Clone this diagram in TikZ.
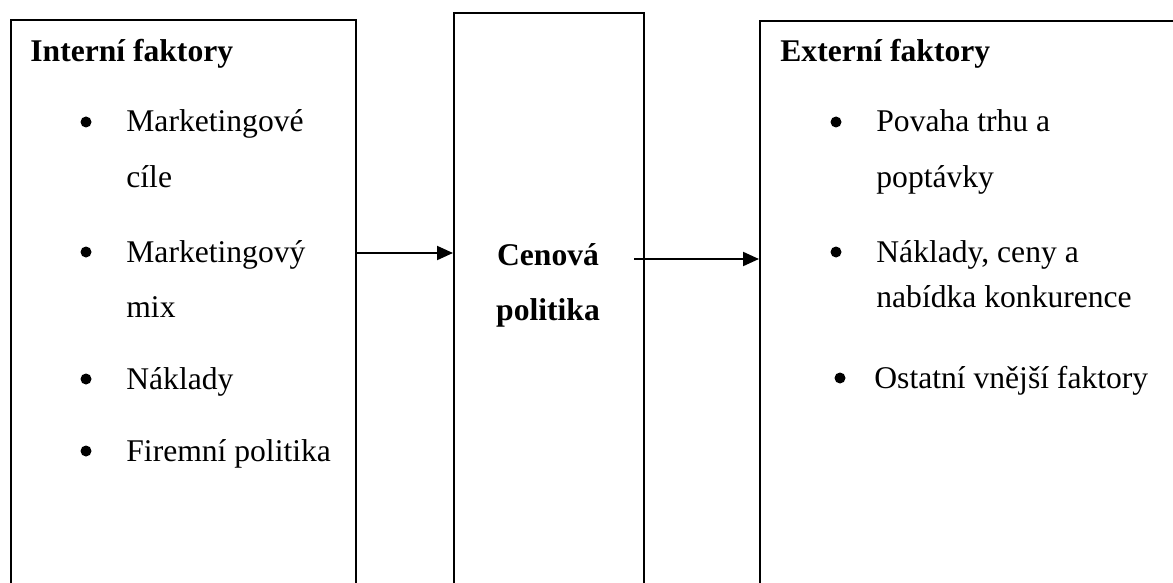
\documentclass[tikz,border=0pt]{standalone}
\usepackage{fontspec}
\setmainfont{Liberation Serif}
\usetikzlibrary{arrows.meta}
\begin{document}
\begin{tikzpicture}[x=0.5pt,y=-0.5pt,
  box/.style={draw, line width=1pt, rectangle, inner sep=0pt, anchor=north west},
  txt/.style={anchor=base west, inner sep=0pt, font=\fontsize{15.8pt}{19pt}\selectfont},
  ttl/.style={anchor=base west, inner sep=0pt, font=\fontsize{15.8pt}{19pt}\selectfont\bfseries},
  mid/.style={anchor=base, inner sep=0pt, font=\fontsize{15.8pt}{19pt}\selectfont\bfseries},
  bul/.style={circle, fill, inner sep=0pt, minimum size=5.5pt},
  arr/.style={line width=1pt, -{Triangle[length=8pt,width=7pt]}}]
\useasboundingbox (0,0) rectangle (1173,583);
\clip (0,0) rectangle (1173,583);
% boxes
\node[box, minimum width=172.5pt, minimum height=320pt] (L) at (10,19) {};
\node[box, minimum width=95pt, minimum height=330pt] (M) at (453,12) {};
\node[box, minimum width=250pt, minimum height=320pt] (R) at (759,20) {};
% left column
\node[ttl] (Lt) at (30,62) {Interní faktory};
\node[bul] (Lb1) at (86,122) {};
\node[txt] (L1a) at (126,132) {Marketingové};
\node[txt] (L1b) at (126,187) {cíle};
\node[bul] (Lb2) at (86,252) {};
\node[txt] (L2a) at (126,262) {Marketingový};
\node[txt] (L2b) at (126,317) {mix};
\node[bul] (Lb3) at (86,379) {};
\node[txt] (L3) at (126,389) {Náklady};
\node[bul] (Lb4) at (86,451) {};
\node[txt] (L4) at (126,461) {Firemní politika};
% middle
\node[mid] (C1) at (548,265) {Cenová};
\node[mid] (C2) at (548,320) {politika};
% right column
\node[ttl] (Rt) at (780,62) {Externí faktory};
\node[bul] (Rb1) at (836,122) {};
\node[txt] (R1a) at (876,132) {Povaha trhu a};
\node[txt] (R1b) at (876,188) {poptávky};
\node[bul] (Rb2) at (836,252) {};
\node[txt] (R2a) at (876,262) {Náklady, ceny a};
\node[txt] (R2b) at (876,307) {nabídka konkurence};
\node[bul] (Rb3) at (840,378) {};
\node[txt] (R3) at (874,388) {Ostatní vnější faktory};
% arrows
\coordinate (a1) at (0,253);
\draw[arr] (L.east |- a1) -- (M.west |- a1);
\coordinate (a2) at (634,259);
\draw[arr] (a2) -- (R.west |- a2);
\end{tikzpicture}
\end{document}
